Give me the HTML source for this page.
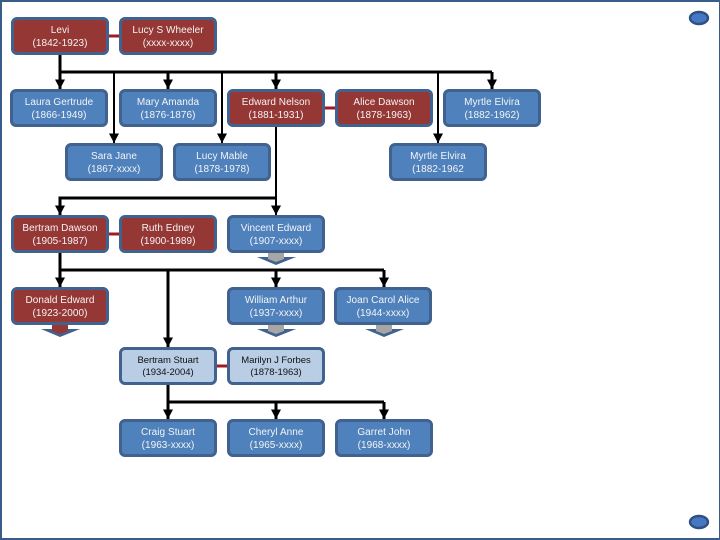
<!DOCTYPE html>
<html><head><meta charset="utf-8"><style>
html,body{margin:0;padding:0;background:#fff}
body{width:720px;height:540px;position:relative;overflow:hidden;font-family:"Liberation Sans",sans-serif}
#f{position:absolute;left:0;top:0;width:717px;height:536px;border:2px solid #385d8a;border-right-width:1px}
.b{position:absolute;width:92px;height:30px;padding-top:2px;border:3px solid #41628e;border-radius:6px;color:#f4f4f4;font-size:10px;line-height:13px;text-align:center;box-sizing:content-box;display:flex;flex-direction:column;justify-content:center;letter-spacing:.05px;white-space:nowrap}
.r{background:#953735}
.u{background:#4f81bd}
.l{background:#b9cde5;color:#111;font-size:9.5px;line-height:12px;letter-spacing:-.05px;height:31px;padding-top:1px}
svg{position:absolute;left:0;top:0}
</style></head><body>
<div id="f"></div>
<svg width="720" height="540">
<defs><marker id="a" markerWidth="11" markerHeight="11" refX="9.5" refY="5.5" orient="auto" markerUnits="userSpaceOnUse"><path d="M0,0.5L9.5,5.5L0,10.5z" fill="#000"/></marker></defs>
<g stroke="#000" stroke-width="3" fill="none">
<path d="M60,55V72H492"/>
<path d="M60,72V89" marker-end="url(#a)"/>
<path d="M114,72V143" stroke-width="2" marker-end="url(#a)"/>
<path d="M168,72V89" marker-end="url(#a)"/>
<path d="M222,72V143" stroke-width="2" marker-end="url(#a)"/>
<path d="M276,72V89" marker-end="url(#a)"/>
<path d="M438,72V143" stroke-width="2" marker-end="url(#a)"/>
<path d="M492,72V89" marker-end="url(#a)"/>
<path d="M276,127V215" stroke-width="2" marker-end="url(#a)"/>
<path d="M276,198H60V215" marker-end="url(#a)"/>
<path d="M60,253V270H384"/>
<path d="M60,270V287" marker-end="url(#a)"/>
<path d="M168,270V347" marker-end="url(#a)"/>
<path d="M276,270V287" marker-end="url(#a)"/>
<path d="M384,270V287" marker-end="url(#a)"/>
<path d="M168,385V402H384"/>
<path d="M168,402V419" marker-end="url(#a)"/>
<path d="M276,402V419" marker-end="url(#a)"/>
<path d="M384,402V419" marker-end="url(#a)"/>
</g>
<path d="M109,36H120M109,234H120M217,366H228M325,108H336" stroke="#a01c20" stroke-width="3"/>
<g>
<path d="M41,329L80,329L60,337Z" fill="#41628e"/><path d="M52,325H68V331L60,334L52,331Z" fill="#953735"/>
<path d="M257,257L296,257L276,265Z" fill="#41628e"/><path d="M268,253H284V259L276,262L268,259Z" fill="#a6a6a6"/>
<path d="M257,329L296,329L276,337Z" fill="#41628e"/><path d="M268,325H284V331L276,334L268,331Z" fill="#a6a6a6"/>
<path d="M365,329L404,329L384,337Z" fill="#41628e"/><path d="M376,325H392V331L384,334L376,331Z" fill="#a6a6a6"/>
</g>
<ellipse cx="699" cy="18" rx="9" ry="6" fill="#4577c4" stroke="#2f5080" stroke-width="2.4"/>
<ellipse cx="699" cy="522" rx="9" ry="6" fill="#4577c4" stroke="#2f5080" stroke-width="2.4"/>
</svg>
<div class="b r" style="left:11px;top:17px">Levi<br>(1842-1923)</div>
<div class="b r" style="left:119px;top:17px">Lucy S Wheeler<br>(xxxx-xxxx)</div>
<div class="b u" style="left:10px;top:89px">Laura Gertrude<br>(1866-1949)</div>
<div class="b u" style="left:119px;top:89px">Mary Amanda<br>(1876-1876)</div>
<div class="b r" style="left:227px;top:89px">Edward Nelson<br>(1881-1931)</div>
<div class="b r" style="left:335px;top:89px">Alice Dawson<br>(1878-1963)</div>
<div class="b u" style="left:443px;top:89px">Myrtle Elvira<br>(1882-1962)</div>
<div class="b u" style="left:65px;top:143px">Sara Jane<br>(1867-xxxx)</div>
<div class="b u" style="left:173px;top:143px">Lucy Mable<br>(1878-1978)</div>
<div class="b u" style="left:389px;top:143px">Myrtle Elvira<br>(1882-1962</div>
<div class="b r" style="left:11px;top:215px">Bertram Dawson<br>(1905-1987)</div>
<div class="b r" style="left:119px;top:215px">Ruth Edney<br>(1900-1989)</div>
<div class="b u" style="left:227px;top:215px">Vincent Edward<br>(1907-xxxx)</div>
<div class="b r" style="left:11px;top:287px">Donald Edward<br>(1923-2000)</div>
<div class="b u" style="left:227px;top:287px">William Arthur<br>(1937-xxxx)</div>
<div class="b u" style="left:334px;top:287px">Joan Carol Alice<br>(1944-xxxx)</div>
<div class="b l" style="left:119px;top:347px">Bertram Stuart<br>(1934-2004)</div>
<div class="b l" style="left:227px;top:347px">Marilyn J Forbes<br>(1878-1963)</div>
<div class="b u" style="left:119px;top:419px">Craig Stuart<br>(1963-xxxx)</div>
<div class="b u" style="left:227px;top:419px">Cheryl Anne<br>(1965-xxxx)</div>
<div class="b u" style="left:335px;top:419px">Garret John<br>(1968-xxxx)</div>
</body></html>
